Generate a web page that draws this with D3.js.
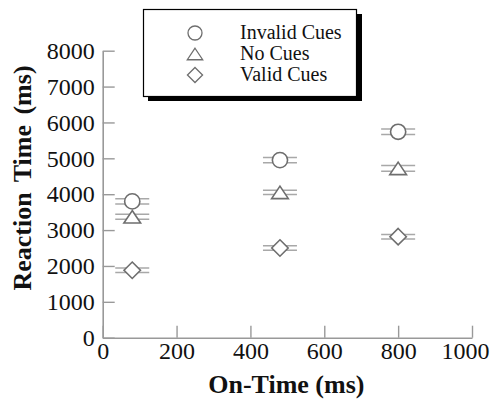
<!DOCTYPE html>
<html>
<head>
<meta charset="utf-8">
<script src="https://cdn.jsdelivr.net/npm/d3@7"></script>
<style>
  html, body { margin: 0; padding: 0; background: #fff; }
  svg { display: block; }
  text { font-family: "Liberation Serif", "Times New Roman", serif; fill: #111; }
</style>
</head>
<body>
<svg id="chart" width="493" height="400"></svg>
<script>
// ---- data ----
const onTimes = [80, 480, 800];
const invalidCues = [3800, 4950, 5740];
const noCues = [3370, 4050, 4720];
const validCues = [1880, 2500, 2815];
const invalidErr = [70, 70, 75];
const noCuesErr = [70, 60, 80];
const validErr = [60, 60, 65];
const seriesNames = ["Invalid Cues", "No Cues", "Valid Cues"];
const seriesShapes = ["circle", "triangle", "diamond"];
const xTicks = [0, 200, 400, 600, 800, 1000];
const yTicks = [0, 1000, 2000, 3000, 4000, 5000, 6000, 7000, 8000];

const series = [
  { name: seriesNames[0], shape: seriesShapes[0], values: invalidCues, errs: invalidErr },
  { name: seriesNames[1], shape: seriesShapes[1], values: noCues, errs: noCuesErr },
  { name: seriesNames[2], shape: seriesShapes[2], values: validCues, errs: validErr }
];

const svg = d3.select("#chart");
const x = d3.scaleLinear().domain([0, 1000]).range([102.7, 472]);
const y = d3.scaleLinear().domain([0, 8000]).range([337.7, 50.7]);

const axisColor = "#999";

// axes
const xAxis = svg.append("g").attr("transform", `translate(0,${y(0)})`)
  .call(d3.axisBottom(x).tickValues(xTicks).tickFormat(d3.format("d"))
    .tickSizeInner(-12).tickSizeOuter(0).tickPadding(4));
const yAxis = svg.append("g").attr("transform", `translate(${x(0)},0)`)
  .call(d3.axisLeft(y).tickValues(yTicks).tickFormat(d3.format("d"))
    .tickSizeInner(-12).tickSizeOuter(0).tickPadding(8));
[xAxis, yAxis].forEach(a => {
  a.select(".domain").attr("stroke", axisColor).attr("stroke-width", 1.6);
  a.selectAll(".tick line").attr("stroke", axisColor).attr("stroke-width", 1.4);
  a.selectAll(".tick text").attr("font-family", "Liberation Serif, serif")
    .attr("font-size", 24).attr("fill", "#111");
});
// keep the last x label inside the picture, as in the reference
xAxis.selectAll(".tick text").filter(d => d === 1000).attr("dx", -7);

// axis titles
svg.append("text").attr("x", (x(0) + x(1000)) / 2 - 1).attr("y", 393)
  .attr("text-anchor", "middle").attr("font-weight", "bold").attr("font-size", 26)
  .text("On-Time (ms)");
svg.append("text").attr("transform", "translate(31,178) rotate(-90)")
  .attr("text-anchor", "middle").attr("font-weight", "bold").attr("font-size", 26)
  .attr("word-spacing", 4)
  .text("Reaction Time (ms)");

function markerPath(shape, s) {
  if (shape === "circle") {
    return d3.arc()({ innerRadius: 0, outerRadius: s, startAngle: 0, endAngle: 2 * Math.PI });
  }
  if (shape === "triangle") {
    const w = s * 1.1, h = s * 0.82;
    return `M0,${-h}L${w},${h}L${-w},${h}Z`;
  }
  const d = s * 1.08;
  return `M0,${-d}L${d},0L0,${d}L${-d},0Z`;
}

const markerColor = "#6e6e6e";
const errColor = "#a8a8a8";
const capHalf = 17;

// error bars and markers
series.forEach(s => {
  const g = svg.append("g");
  onTimes.forEach((t, i) => {
    const cx = x(t), v = s.values[i], e = s.errs[i];
    [v + e, v - e].forEach(val => {
      g.append("line").attr("x1", cx - capHalf).attr("x2", cx + capHalf)
        .attr("y1", y(val)).attr("y2", y(val))
        .attr("stroke", errColor).attr("stroke-width", 1.5);
    });
    g.append("line").attr("x1", cx).attr("x2", cx).attr("y1", y(v + e)).attr("y2", y(v - e))
      .attr("stroke", errColor).attr("stroke-width", 1.5);
    g.append("path").attr("d", markerPath(s.shape, 7.6))
      .attr("transform", `translate(${cx},${y(v)})`)
      .attr("fill", "#fff").attr("stroke", markerColor).attr("stroke-width", 1.6);
  });
});

// legend
const lg = svg.append("g");
lg.append("rect").attr("x", 148).attr("y", 14).attr("width", 214).attr("height", 87).attr("fill", "#000");
lg.append("rect").attr("x", 143.5).attr("y", 9.5).attr("width", 213).attr("height", 87)
  .attr("fill", "#fff").attr("stroke", "#000").attr("stroke-width", 1.2);
const rowY = [33, 54, 75];
series.forEach((s, i) => {
  lg.append("path").attr("d", markerPath(s.shape, 7))
    .attr("transform", `translate(195,${rowY[i]})`)
    .attr("fill", "#fff").attr("stroke", markerColor).attr("stroke-width", 1.3);
  lg.append("text").attr("x", 240).attr("y", rowY[i] + 6).attr("font-size", 20)
    .text(s.name);
});
</script>
</body>
</html>
